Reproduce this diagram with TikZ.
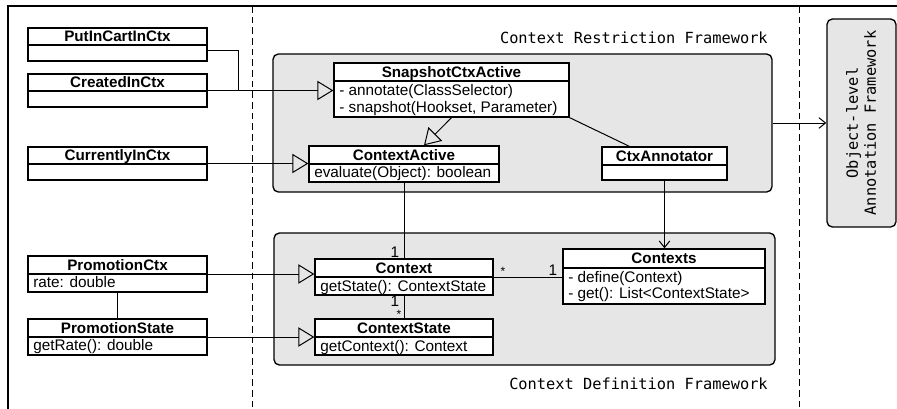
\documentclass[tikz,border=0pt]{standalone}
\usepackage{fontspec}
\setmainfont{Liberation Sans}
\newfontfamily\dvmono{DejaVu Sans Mono}
\usetikzlibrary{arrows.meta,fit,calc}
\definecolor{pkggray}{HTML}{E6E6E6}
\newcommand\clsTitleFont{\bfseries\fontsize{11.4}{13}\selectfont}
\newcommand\clsAttrFont{\fontsize{11.5}{13}\selectfont}
\newcommand\monoLbl{\dvmono\fontsize{11.5}{13.5}\selectfont}
\tikzset{
  classbox/.style={draw, line width=1pt, fill=white, inner sep=0pt},
  divider/.style={line width=1pt},
  classtitle/.style={inner sep=0pt, font=\clsTitleFont, text height=8.2pt, text depth=0pt},
  attr/.style={inner sep=0pt, anchor=base west, font=\clsAttrFont},
  mult/.style={inner sep=0pt, font=\clsAttrFont},
  pkg/.style={draw, line width=1pt, fill=pkggray, rounded corners=4pt, inner sep=0pt},
  conn/.style={line width=0.75pt},
  gen/.style={conn, -{Triangle[open, length=12pt, width=14.5pt]}},
  dep/.style={conn, -{Straight Barb[length=5pt, width=8pt]}},
  sepline/.style={line width=0.6pt, dash pattern=on 5pt off 3pt},
  frameline/.style={line width=1pt},
  monolabel/.style={inner sep=0pt, font=\monoLbl}
}
\newcommand\umlbox[7]{%
  \node[classbox, fit={(#2,#3) (#4,#5)}] (#1) {};
  \draw[divider] (#2,#6) -- (#4,#6);
  \node[classtitle] at ({(#2+#4)/2},{(#3+#6)/2}) {#7};
}
\begin{document}
\begin{tikzpicture}[x=0.75pt,y=-0.75pt]
\useasboundingbox (0,0) rectangle (897,408);
% outer frame and separators
\draw[frameline] (897,6) -- (8,6) -- (8,410);
\draw[sepline] (252,6) -- (252,410);
\draw[sepline] (799,6) -- (799,410);
% packages
\node[pkg, fit={(273,54) (772,192)}] (restr) {};
\node[pkg, fit={(274,233) (775,365)}] (defn) {};
\node[pkg, fit={(827,19) (896,227)}] (ola) {};
\node[monolabel, anchor=base east] (restrlbl) at (768,43) {Context Restriction Framework};
\node[monolabel, anchor=base east] (defnlbl) at (768,389) {Context Definition Framework};
\node[monolabel, rotate=90, align=center] (olalbl) at (861,123) {Object-level\\Annotation Framework};
% left classes
\umlbox{put}{28}{28}{207}{61}{45}{PutInCartInCtx}
\umlbox{created}{28}{74}{207}{107}{91}{CreatedInCtx}
\umlbox{currently}{28}{147}{207}{180}{164}{CurrentlyInCtx}
\umlbox{promctx}{28}{256}{207}{292}{274}{PromotionCtx}
\node[attr] (promctxa) at (33,287) {rate: double};
\umlbox{promstate}{28}{319}{207}{355}{337}{PromotionState}
\node[attr] (promstatea) at (33,350) {getRate(): double};
% restriction framework classes
\umlbox{snap}{334}{63}{569}{117}{81}{SnapshotCtxActive}
\node[attr] (snapa) at (339,95.5) {- annotate(ClassSelector)};
\node[attr] (snapb) at (339,112.5) {- snapshot(Hookset, Parameter)};
\umlbox{ctxactive}{309}{146}{499}{182}{164}{ContextActive}
\node[attr] (ctxactivea) at (314,177.5) {evaluate(Object): boolean};
\umlbox{annot}{602}{147}{727}{180}{165}{CtxAnnotator}
% definition framework classes
\umlbox{context}{315}{259}{493}{295}{277}{Context}
\node[attr] (contexta) at (320,291) {getState(): ContextState};
\umlbox{cstate}{315}{319}{493}{355}{337}{ContextState}
\node[attr] (cstatea) at (320,351) {getContext(): Context};
\umlbox{contexts}{563}{249}{765}{304}{268}{Contexts}
\node[attr] (contextsa) at (568,282) {- define(Context)};
\node[attr] (contextsb) at (568,298) {- get(): List<ContextState>};
% connectors
\coordinate (joinpt) at (238,90.5);
\draw[conn] ($(put.east)+(0,5.5)$) -| (joinpt);
\draw[gen] (created.east) -- (created.east -| snap.west);
\draw[gen] (currently.east) -- (currently.east -| ctxactive.west);
\draw[gen] (snap.south) -- ($(ctxactive.north)+(20,0)$);
\draw[conn] (snap.south east) -- ($(annot.north west)+(28,0)$);
\draw[conn] (ctxactive.south) -- (context.north);
\draw[dep] (annot.south) -- (annot.south |- contexts.north);
\draw[dep] (restr.east) -- (ola.west);
\draw[gen] (promctx.east) -- (promctx.east -| context.west);
\draw[gen] (promstate.east) -- (promstate.east -| cstate.west);
\draw[conn] (promctx.south) -- (promstate.north);
\draw[conn] (context.east) -- (context.east -| contexts.west);
\draw[conn] (context.south) -- (cstate.north);
% multiplicities
\node[mult] (m1) at (395,252) {1};
\node[mult] (m2) at (503,271) {\fontsize{9}{10}\selectfont *};
\node[mult] (m3) at (553,270) {1};
\node[mult] (m4) at (395,301) {1};
\node[mult] (m5) at (399,314.5) {\fontsize{9}{10}\selectfont *};
\end{tikzpicture}
\end{document}
